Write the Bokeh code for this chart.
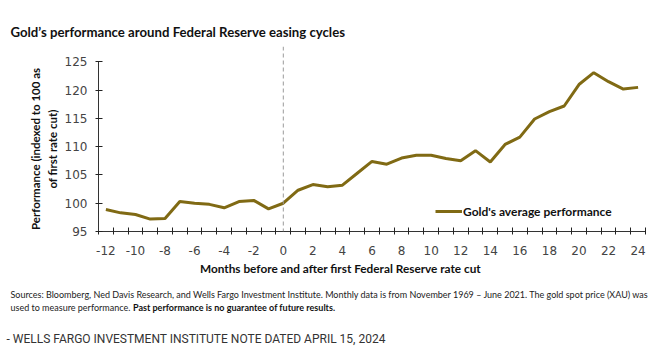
import math
from bokeh.plotting import figure
from bokeh.layouts import column, row
from bokeh.models import ColumnDataSource, FixedTicker, Span, Legend, LegendItem, Range1d
from bokeh.core.properties import value
from bokeh.embed import file_html
from bokeh.resources import INLINE

months = list(range(-12, 25))
gold = [98.9, 98.3, 98.0, 97.2, 97.3, 100.3, 100.0, 99.8, 99.2, 100.3, 100.5, 99.0,
        100.0, 102.3, 103.3, 102.9, 103.2, 105.3, 107.4, 106.9, 108.0, 108.5, 108.5,
        107.9, 107.5, 109.3, 107.3, 110.4, 111.7, 114.9, 116.2, 117.2, 121.0, 123.1,
        121.5, 120.2, 120.5]
x_tick_labels = list(range(-12, 25, 2))
y_ticks = [95, 100, 105, 110, 115, 120, 125]

title_text = "Gold\u2019s performance around Federal Reserve easing cycles"
ylab1 = "Performance (indexed to 100 as"
ylab2 = "of first rate cut)"
xlab = "Months before and after first Federal Reserve rate cut"
legend_text = "Gold's average performance"
src1 = ("Sources: Bloomberg, Ned Davis Research, and Wells Fargo Investment Institute. "
        "Monthly data is from November 1969 \u2013 June 2021. The gold spot price (XAU) was")
src2a = "used to measure performance."
src2b = "Past performance is no guarantee of future results."
note = "- WELLS FARGO INVESTMENT INSTITUTE NOTE DATED APRIL 15, 2024"

GOLD = "#806A14"
W = 667
TOP_H = 46
LEFT_W = 60
MID_H = 211
FRAME_H = 186
BOT_H = 357 - TOP_H - MID_H


def text_fig(w, h, frame_h=None):
    fh = h if frame_h is None else frame_h
    f = figure(width=w, height=h, output_backend="svg", toolbar_location=None,
               x_range=Range1d(0, w), y_range=Range1d(0, fh),
               min_border=0, min_border_left=0, min_border_right=0,
               min_border_top=0, min_border_bottom=0)
    f.axis.visible = False
    f.grid.visible = False
    f.outline_line_color = None
    f.background_fill_color = "white"
    f.border_fill_color = "white"
    return f


def txt(f, h, text, x, y, font="Lato", size="12px", style="normal", color="#111111",
        align="left", angle=0.0):
    f.text(x=[x], y=[h - y], text=[text], text_font=value(font), text_font_size=size,
           text_font_style=style, text_color=color, text_align=align,
           text_baseline="middle", angle=angle)


# ---- top: title
top = text_fig(W, TOP_H)
txt(top, TOP_H, title_text, 10, 31, size="13.2px", style="bold")

# ---- left: y-axis label (two lines); its frame is aligned with the chart frame
left = text_fig(LEFT_W, MID_H, FRAME_H)
txt(left, FRAME_H, ylab1, 35, 149 - TOP_H, size="11.5px", style="bold", align="center",
    angle=math.pi / 2)
txt(left, FRAME_H, ylab2, 52, 149 - TOP_H, size="11.5px", style="bold", align="center",
    angle=math.pi / 2)

# ---- main chart
p = figure(width=W - LEFT_W, height=MID_H, output_backend="svg", toolbar_location=None,
           x_range=Range1d(-12.5, 24.5), y_range=Range1d(95, 127.73),
           min_border_left=98 - LEFT_W, min_border_right=22, min_border_top=0,
           min_border_bottom=MID_H - FRAME_H)
p.outline_line_color = None
p.grid.grid_line_color = None
p.background_fill_color = "white"
p.border_fill_color = "white"

xa = p.xaxis[0]
xa.ticker = FixedTicker(ticks=x_tick_labels, minor_ticks=[m + 0.5 for m in range(-13, 25)])
xa.major_label_overrides = {t: str(t) for t in x_tick_labels}
xa.major_tick_line_color = None
xa.minor_tick_in = 4
xa.minor_tick_out = 3
xa.minor_tick_line_color = "#222222"
xa.minor_tick_line_width = 1
xa.axis_line_color = "#333333"
xa.major_label_text_font = "DejaVu Sans"
xa.major_label_text_font_size = "12px"
xa.major_label_text_color = "#444444"
xa.major_label_standoff = 8

ya = p.yaxis[0]
ya.ticker = FixedTicker(ticks=y_ticks)
ya.bounds = (95, 125)
ya.major_tick_in = 4
ya.major_tick_out = 3
ya.minor_tick_line_color = None
ya.major_tick_line_color = "#222222"
ya.axis_line_color = "#333333"
ya.major_label_text_font = "DejaVu Sans"
ya.major_label_text_font_size = "12px"
ya.major_label_text_color = "#444444"
ya.major_label_standoff = 8

p.add_layout(Span(location=0, dimension="height", line_color="#9a9a9a",
                  line_dash="4 3", line_width=1))

src = ColumnDataSource(dict(x=months, y=gold))
r = p.line("x", "y", source=src, line_color=GOLD, line_width=3)

legend = Legend(items=[LegendItem(label=legend_text, renderers=[r])],
                location=(337, 10), padding=0, margin=0, glyph_width=27, glyph_height=20,
                label_standoff=1, border_line_color=None, background_fill_alpha=0,
                label_text_font="Lato", label_text_font_style="bold",
                label_text_font_size="12px", label_text_color="#111111")
p.add_layout(legend)

# ---- bottom: x label, sources, note
bot = text_fig(W, BOT_H)
y0 = TOP_H + MID_H
txt(bot, BOT_H, xlab, 340, 268 - y0, size="11.8px", style="bold", align="center")
txt(bot, BOT_H, src1, 10, 294 - y0, font="Lato", size="9px", color="#222222")
txt(bot, BOT_H, src2a, 10, 307 - y0, font="Lato", size="9px", color="#222222")
txt(bot, BOT_H, src2b, 132.5, 307 - y0, font="Lato", size="9px", style="bold", color="#111111")
txt(bot, BOT_H, note, 6, 338 - y0, font="Roboto", size="12px", color="#333333")

layout = column(top, row(left, p, spacing=0), bot, spacing=0)
open("out.html", "w").write(file_html(layout, INLINE))
